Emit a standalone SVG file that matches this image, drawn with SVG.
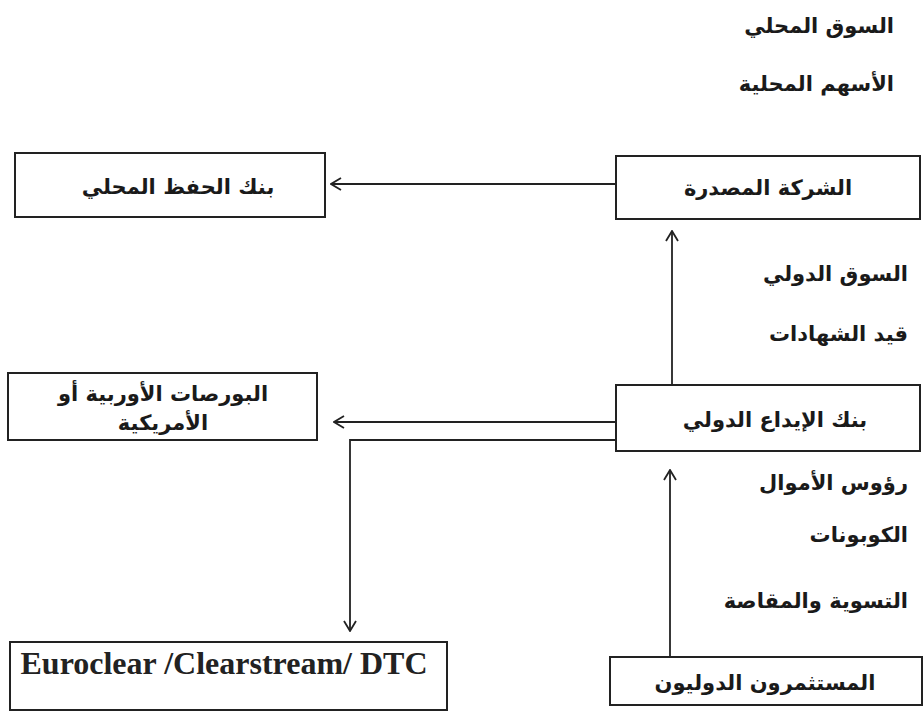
<svg xmlns="http://www.w3.org/2000/svg" width="924" height="713" viewBox="0 0 924 713">
<style>
.box{fill:#fff;stroke:#222;stroke-width:2}
.ar{font-family:"DejaVu Sans",sans-serif;font-weight:bold;font-size:21px;fill:#1a1a1a}
.en{font-family:"Liberation Serif",serif;font-weight:bold;font-size:32px;fill:#222}
.ln{fill:none;stroke:#222;stroke-width:1.8}
</style>
<defs>
<marker id="ah" viewBox="0 0 12 14" refX="11" refY="7" markerWidth="12" markerHeight="14" markerUnits="userSpaceOnUse" orient="auto">
<path d="M1,1 L11,7 L1,13" fill="none" stroke="#222" stroke-width="1.8"/>
</marker>
</defs>
<rect width="924" height="713" fill="#fff"/>
<g id="labels">
<text class="ar" x="894" y="33" text-anchor="end">السوق المحلي</text>
<text class="ar" x="894" y="91" text-anchor="end">الأسهم المحلية</text>
<text class="ar" x="908" y="281" text-anchor="end">السوق الدولي</text>
<text class="ar" x="908" y="341" text-anchor="end">قيد الشهادات</text>
<text class="ar" x="908" y="490" text-anchor="end">رؤوس الأموال</text>
<text class="ar" x="908" y="542" text-anchor="end">الكوبونات</text>
<text class="ar" x="908" y="608" text-anchor="end">التسوية والمقاصة</text>
</g>
<g id="connectors">
<line class="ln" x1="616" y1="184" x2="331" y2="184" marker-end="url(#ah)"/>
<line class="ln" x1="672" y1="385" x2="672" y2="231" marker-end="url(#ah)"/>
<line class="ln" x1="616" y1="422" x2="334" y2="422" marker-end="url(#ah)"/>
<polyline class="ln" points="616,440 350,440 350,631" marker-end="url(#ah)"/>
<line class="ln" x1="670" y1="657" x2="670" y2="470" marker-end="url(#ah)"/>
</g>
<g id="node-local-custody">
<rect class="box" x="15" y="153" width="310" height="64"/>
<text class="ar" x="178" y="194" text-anchor="middle">بنك الحفظ المحلي</text>
</g>
<g id="node-issuer">
<rect class="box" x="616" y="156" width="304" height="63"/>
<text class="ar" x="768" y="195" text-anchor="middle">الشركة المصدرة</text>
</g>
<g id="node-depositary">
<rect class="box" x="616" y="385" width="304" height="66"/>
<text class="ar" x="775" y="427" text-anchor="middle">بنك الإيداع الدولي</text>
</g>
<g id="node-exchanges">
<rect class="box" x="8" y="373" width="309" height="67"/>
<text class="ar" x="163" y="401" text-anchor="middle">البورصات الأوربية أو</text>
<text class="ar" x="163" y="430" text-anchor="middle">الأمريكية</text>
</g>
<g id="node-clearing">
<rect class="box" x="10" y="642" width="437" height="68"/>
<text class="en" x="224" y="674" text-anchor="middle">Euroclear /Clearstream/ DTC</text>
</g>
<g id="node-investors">
<rect class="box" x="610" y="657" width="312" height="48"/>
<text class="ar" x="765" y="690" text-anchor="middle">المستثمرون الدوليون</text>
</g>
</svg>
